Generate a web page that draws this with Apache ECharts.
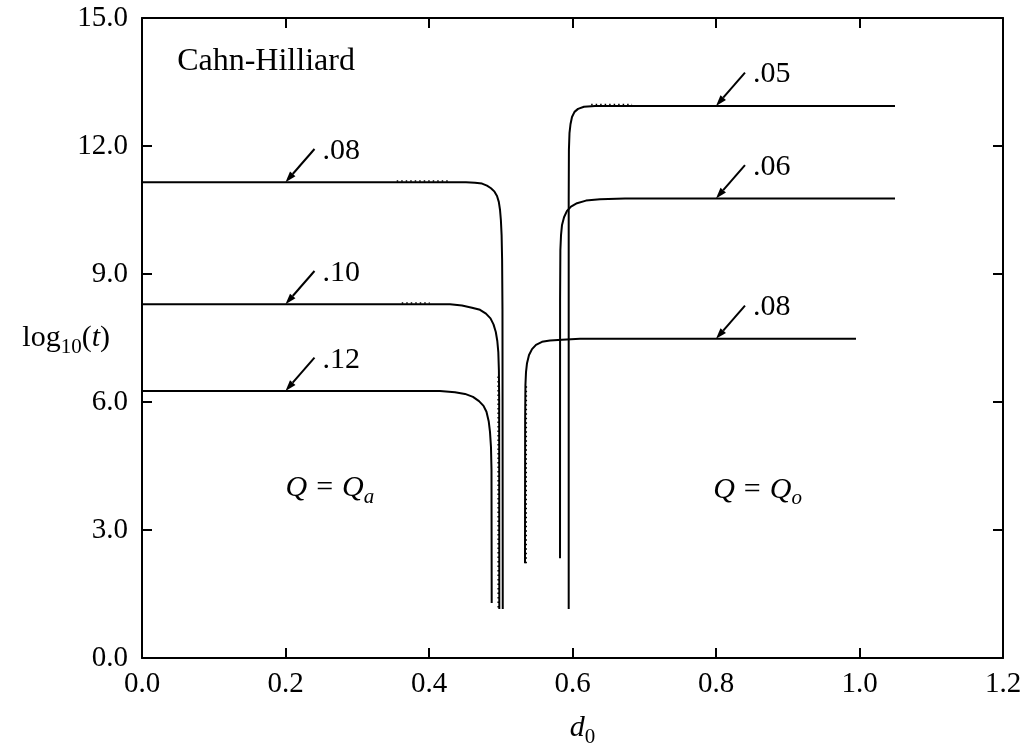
<!DOCTYPE html>
<html><head><meta charset="utf-8">
<script src="https://cdn.jsdelivr.net/npm/echarts@6/dist/echarts.min.js"></script>
<style>html,body{margin:0;padding:0;background:#fff}#c{width:1029px;height:746px}</style>
</head><body><div id="c"></div>
<script>
// ---- data ----
const xTicks = [0.0, 0.2, 0.4, 0.6, 0.8, 1.0, 1.2];
const yTicks = [0.0, 3.0, 6.0, 9.0, 12.0, 15.0];

// Q = Qa branch (solid)
const curve08L = [[0,11.15],[0.4516,11.15],[0.4641,11.14],[0.4739,11.12],[0.4808,11.07],[0.4864,11.01],[0.4913,10.93],[0.4948,10.83],[0.4973,10.69],[0.499,10.5],[0.5002,10.26],[0.5012,9.91],[0.5019,9.33],[0.5024,8.16],[0.5028,1.15]];
const curve10L = [[0,8.29],[0.4293,8.29],[0.446,8.26],[0.4599,8.21],[0.4711,8.16],[0.4794,8.07],[0.4857,7.96],[0.4899,7.82],[0.4931,7.64],[0.4952,7.43],[0.4966,7.17],[0.4974,6.75],[0.4978,6.05],[0.498,1.15]];
const curve12L = [[0,6.26],[0.4153,6.26],[0.4362,6.23],[0.4502,6.19],[0.4613,6.12],[0.4697,6.02],[0.476,5.91],[0.4801,5.77],[0.4832,5.55],[0.485,5.3],[0.4864,4.94],[0.4871,4.41],[0.4874,1.29]];
// Q = Qo branch (solid)
const curve08R = [[0.5338,2.22],[0.534,5.58],[0.5344,6.4],[0.5352,6.7],[0.5366,6.91],[0.5394,7.1],[0.5436,7.24],[0.5491,7.34],[0.5575,7.41],[0.5686,7.44],[0.5854,7.46],[0.6105,7.48],[0.9951,7.48]];
const curve06R = [[0.5826,2.34],[0.5827,8.39],[0.5831,9.56],[0.584,9.91],[0.5854,10.15],[0.5882,10.33],[0.5923,10.48],[0.5979,10.58],[0.6063,10.66],[0.6188,10.72],[0.6383,10.75],[0.6732,10.77],[1.0495,10.77]];
const curve05R = [[0.5947,1.15],[0.5947,10.73],[0.595,11.91],[0.5958,12.3],[0.5972,12.51],[0.5993,12.68],[0.6028,12.8],[0.6077,12.87],[0.616,12.92],[0.6314,12.94],[1.0495,12.94]];
// dotted companion curves (visible where they separate from the solid ones)
const dotted08L = [[0.355,11.18],[0.43,11.18]];
const dotted10L = [[0.362,8.32],[0.401,8.32]];
const dotted10V = [[0.4964,6.6],[0.4965,1.15]];
const dotted05R = [[0.626,12.97],[0.683,12.97]];
const dotted08R = [[0.5354,2.22],[0.5356,6.4]];

// annotations
const arrowLabels = ['.08', '.10', '.12', '.05', '.06', '.08'];
const arrowTips = [[0.2,11.15],[0.2,8.29],[0.2,6.26],[0.8,12.94],[0.8,10.77],[0.8,7.48]];
const titleText = 'Cahn-Hilliard';
const titlePos = [0.049, 13.97];
const regionLabels = [{pos:[0.2,3.98], sub:'a'}, {pos:[0.796,3.94], sub:'o'}];

// ---- chart ----
const FONT = 'Liberation Serif';
const black = '#000';
const solid = [curve08L, curve10L, curve12L, curve08R, curve06R, curve05R];
const dotted = [dotted08L, dotted10L, dotted10V, dotted05R, dotted08R];

const series = [];
solid.forEach(d => series.push({type:'line', data:d, showSymbol:false, silent:true,
  lineStyle:{color:black, width:2}, z:3}));
dotted.forEach(d => series.push({type:'line', data:d, showSymbol:false, silent:true,
  lineStyle:{color:black, width:1.6, type:[1.5,3]}, z:2}));

const axisCommon = {
  axisLine:{show:true, onZero:false, lineStyle:{color:black, width:2}},
  axisTick:{show:true, inside:true, length:10, lineStyle:{color:black, width:2}},
  splitLine:{show:false}
};
const fmt = v => Number(v).toFixed(1);

const option = {
  animation:false,
  backgroundColor:'#fff',
  grid:{left:142, right:26, top:18, bottom:88, containLabel:false, outerBoundsMode:'none'},
  xAxis:[
    Object.assign({type:'value', min:xTicks[0], max:xTicks[xTicks.length-1], interval:0.2, position:'bottom',
      axisLabel:{formatter:fmt, fontFamily:FONT, fontSize:29, color:black, margin:12}}, axisCommon),
    Object.assign({type:'value', min:xTicks[0], max:xTicks[xTicks.length-1], interval:0.2, position:'top',
      axisLabel:{show:false}}, axisCommon)
  ],
  yAxis:[
    Object.assign({type:'value', min:yTicks[0], max:yTicks[yTicks.length-1], interval:3, position:'left',
      axisLabel:{formatter:fmt, fontFamily:FONT, fontSize:29, color:black, margin:14}}, axisCommon),
    Object.assign({type:'value', min:yTicks[0], max:yTicks[yTicks.length-1], interval:3, position:'right',
      axisLabel:{show:false}}, axisCommon)
  ],
  series:series
};

const chart = echarts.init(document.getElementById('c'), null, {renderer:'canvas'});
chart.setOption(option);

// math-like label built from pieces (main 30px, subscripts 21px lowered)
const mctx = document.createElement('canvas').getContext('2d');
const fontStr = p => (p.it ? 'italic ' : '') + p.size + 'px "' + FONT + '"';
function mathLabel(parts, x, y, align) {
  const widths = parts.map(p => { mctx.font = fontStr(p); return mctx.measureText(p.t).width + (p.gap || 0) * 2; });
  const total = widths.reduce((a, b) => a + b, 0);
  let cx = align === 'right' ? x - total : align === 'center' ? x - total / 2 : x;
  const out = [];
  parts.forEach((p, i) => {
    out.push({type:'text', silent:true, x:cx + (p.gap || 0), y:y + (p.dy || 0),
      style:{text:p.t, font:fontStr(p), fill:black, align:'left', verticalAlign:'middle'}});
    cx += widths[i];
  });
  return out;
}
const M = (t, it, gap) => ({t:t, size:30, it:!!it, gap:gap || 0});
const S = (t, it) => ({t:t, size:21, it:!!it, dy:9});

const px = (x, y) => chart.convertToPixel({xAxisIndex:0, yAxisIndex:0}, [x, y]);
const arrowDx = 0.0404, arrowDy = 0.78;
let g = [];
arrowTips.forEach((t, i) => {
  const tip = px(t[0], t[1]);
  const tail = px(t[0] + arrowDx, t[1] + arrowDy);
  const vx = tip[0] - tail[0], vy = tip[1] - tail[1];
  const L = Math.hypot(vx, vy), ux = vx / L, uy = vy / L;
  const hl = 11, hw = 3.6;
  const bx = tip[0] - ux * hl, by = tip[1] - uy * hl;
  g.push({type:'line', silent:true, shape:{x1:tail[0], y1:tail[1], x2:bx, y2:by},
    style:{stroke:black, lineWidth:2}});
  g.push({type:'polygon', silent:true, shape:{points:[[tip[0], tip[1]],
    [bx - uy * hw, by + ux * hw], [bx + uy * hw, by - ux * hw]]}, style:{fill:black}});
  g.push({type:'text', silent:true, x:tail[0] + 8, y:tail[1] + 2,
    style:{text:arrowLabels[i], font:'30px "' + FONT + '"', fill:black, verticalAlign:'middle', align:'left'}});
});
const tp = px(titlePos[0], titlePos[1]);
g.push({type:'text', silent:true, x:tp[0], y:tp[1],
  style:{text:titleText, font:'32px "' + FONT + '"', fill:black, verticalAlign:'middle', align:'left'}});
regionLabels.forEach(r => {
  const p = px(r.pos[0], r.pos[1]);
  g = g.concat(mathLabel([M('Q', true), M('=', false, 9), M('Q', true), S(r.sub, true)], p[0], p[1], 'left'));
});
// axis titles
const gridRect = {left:142, right:1003, top:18, bottom:658};
g = g.concat(mathLabel([M('log'), S('10'), M('('), M('t', true), M(')')], 110, (gridRect.top + gridRect.bottom) / 2, 'right'));
g = g.concat(mathLabel([M('d', true), S('0')], (gridRect.left + gridRect.right) / 2 + 10, 728, 'center'));
chart.setOption({graphic:g});
</script>
</body></html>
